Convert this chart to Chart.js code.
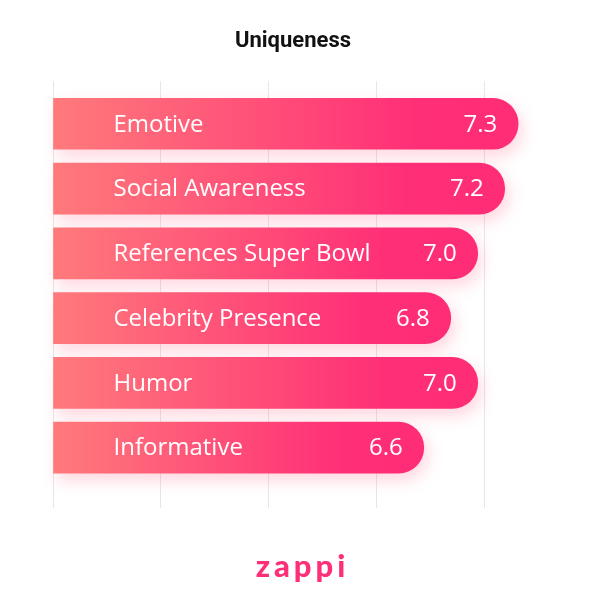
<!DOCTYPE html>
<html>
<head>
<meta charset="utf-8">
<script src="https://cdn.jsdelivr.net/npm/chart.js@4"></script>
<style>
  html, body { margin: 0; padding: 0; background: #fff; }
</style>
</head>
<body>
<canvas id="uniqChart" width="601" height="607"></canvas>
<script>
const categories = ['Emotive', 'Social Awareness', 'References Super Bowl', 'Celebrity Presence', 'Humor', 'Informative'];
const scores = [7.3, 7.2, 7.0, 6.8, 7.0, 6.6];
const gridTicks = [3.85, 4.65, 5.45, 6.25, 7.05];
const axisMin = 3.85;
const axisMax = 7.41;

function barGradient(context) {
    const chart = context.chart;
    const area = chart.chartArea;
    if (!area || context.raw === undefined) return '#ff4f79';
    const end = chart.scales.x.getPixelForValue(context.raw);
    const g = chart.ctx.createLinearGradient(area.left, 0, end, 0);
    g.addColorStop(0, '#ff7a7b');
    g.addColorStop(0.78, '#ff2f77');
    g.addColorStop(1, '#ff2c76');
    return g;
}

// soft pink shadow under bars, then the labels on top
const barDecor = {
    id: 'barDecor',
    beforeDatasetsDraw(chart) {
        const ctx = chart.ctx;
        ctx.save();
        ctx.shadowColor = 'rgba(255, 70, 110, 0.22)';
        ctx.shadowBlur = 16;
        ctx.shadowOffsetX = 4;
        ctx.shadowOffsetY = 7;
    },
    afterDatasetsDraw(chart) {
        const ctx = chart.ctx;
        ctx.restore();
        const meta = chart.getDatasetMeta(0);
        ctx.save();
        ctx.fillStyle = '#fff';
        ctx.font = '24px "Open Sans"';
        ctx.textBaseline = 'middle';
        meta.data.forEach((bar, i) => {
            ctx.textAlign = 'left';
            ctx.fillText(categories[i], bar.base + 60, bar.y + 1);
            ctx.textAlign = 'right';
            ctx.fillText(scores[i].toFixed(1), bar.x - 21, bar.y + 1);
        });
        ctx.restore();
    },
    afterDraw(chart) {
        const ctx = chart.ctx;
        ctx.save();
        ctx.fillStyle = '#fd2f78';
        ctx.font = '900 31px Lato';
        ctx.letterSpacing = '4px';
        ctx.textAlign = 'center';
        ctx.textBaseline = 'alphabetic';
        ctx.fillText('zappi', chart.width / 2 + 2, 577);
        ctx.restore();
    }
};

const gridOpts = (len) => ({
    color: '#e6e6e6',
    lineWidth: 1,
    drawTicks: true,
    tickLength: len
});

new Chart(document.getElementById('uniqChart'), {
    type: 'bar',
    data: {
        labels: categories,
        datasets: [{
            data: scores,
            base: axisMin,
            backgroundColor: barGradient,
            borderRadius: 26,
            borderSkipped: 'start',
            barThickness: 51,
            clip: false
        }]
    },
    options: {
        responsive: false,
        animation: false,
        indexAxis: 'y',
        layout: { padding: { left: 53, right: 68, top: 0, bottom: 99 } },
        plugins: {
            legend: { display: false },
            tooltip: { enabled: false },
            title: {
                display: true,
                text: 'Uniqueness',
                color: '#111',
                font: { family: 'Roboto', size: 22, weight: 'bold' },
                padding: { top: 28, bottom: 27 }
            }
        },
        scales: {
            x: {
                type: 'linear',
                min: axisMin,
                max: axisMax,
                position: 'bottom',
                afterBuildTicks: s => { s.ticks = gridTicks.map(v => ({ value: v })); },
                grid: gridOpts(28),
                border: { display: false },
                ticks: { display: false }
            },
            x2: {
                type: 'linear',
                axis: 'x',
                min: axisMin,
                max: axisMax,
                position: 'top',
                afterBuildTicks: s => { s.ticks = gridTicks.map(v => ({ value: v })); },
                grid: Object.assign(gridOpts(10), { drawOnChartArea: false }),
                border: { display: false },
                ticks: { display: false }
            },
            y: {
                display: false
            }
        }
    },
    plugins: [barDecor]
});
</script>
</body>
</html>
